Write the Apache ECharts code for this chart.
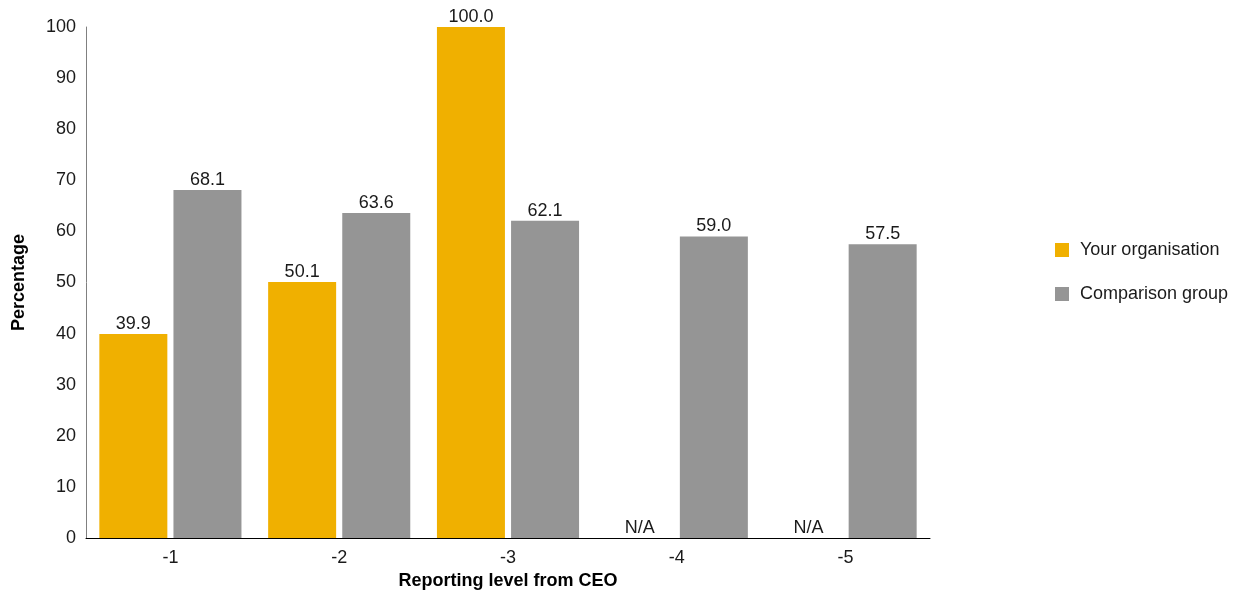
<!DOCTYPE html>
<html>
<head>
<meta charset="utf-8">
<script src="https://cdn.jsdelivr.net/npm/echarts@6/dist/echarts.min.js"></script>
<style>
  html, body { margin: 0; padding: 0; background: #fff; }
  #chart { width: 1238px; height: 590px; }
</style>
</head>
<body>
<div id="chart"></div>
<script>
// Reporting levels below the CEO
const categories = ['-1', '-2', '-3', '-4', '-5'];
// Percentages; null where the organisation has no data
const yourOrganisation = [39.9, 50.1, 100.0, null, null];
const comparisonGroup = [68.1, 63.6, 62.1, 59.0, 57.5];
const yTicks = [0, 10, 20, 30, 40, 50, 60, 70, 80, 90, 100];

const FONT = 'Liberation Sans';
const TEXT = '#1a1a1a';

function toBarData(values) {
  return values.map(v => v === null
    ? { value: 0, label: { formatter: 'N/A' } }
    : v);
}

const labelStyle = {
  show: true,
  position: 'top',
  distance: 1,
  color: TEXT,
  fontFamily: FONT,
  fontSize: 18,
  formatter: p => Number(p.value).toFixed(1)
};

const chart = echarts.init(document.getElementById('chart'));
chart.setOption({
  animation: false,
  textStyle: { fontFamily: FONT },
  grid: { left: 86, right: 308, top: 27, bottom: 52, outerBoundsMode: 'none', containLabel: false },
  legend: {
    orient: 'vertical',
    left: 1055,
    top: 241,
    padding: 0,
    itemWidth: 14,
    itemHeight: 14,
    itemGap: 26,
    icon: 'rect',
    textStyle: { fontFamily: FONT, fontSize: 18, color: TEXT, padding: [0, 0, 0, 6] },
    data: ['Your organisation', 'Comparison group']
  },
  xAxis: {
    type: 'category',
    data: categories,
    name: 'Reporting level from CEO',
    nameLocation: 'middle',
    nameGap: 31,
    nameTextStyle: { fontFamily: FONT, fontSize: 18, fontWeight: 'bold', color: '#000' },
    axisLine: { lineStyle: { color: '#000', width: 1 } },
    axisTick: { show: false },
    axisLabel: { fontFamily: FONT, fontSize: 18, color: TEXT, margin: 11 }
  },
  yAxis: {
    type: 'value',
    min: yTicks[0],
    max: yTicks[yTicks.length - 1],
    interval: 10,
    name: 'Percentage',
    nameLocation: 'middle',
    nameGap: 58,
    nameTextStyle: { fontFamily: FONT, fontSize: 18, fontWeight: 'bold', color: '#000' },
    axisLine: { show: true, lineStyle: { color: '#808080', width: 1 } },
    axisTick: { show: false },
    splitLine: { show: false },
    axisLabel: { fontFamily: FONT, fontSize: 18, color: TEXT, margin: 10 }
  },
  series: [
    {
      name: 'Your organisation',
      type: 'bar',
      data: toBarData(yourOrganisation),
      barWidth: 68,
      barGap: '9%',
      itemStyle: { color: '#F0B000' },
      label: labelStyle
    },
    {
      name: 'Comparison group',
      type: 'bar',
      data: toBarData(comparisonGroup),
      barWidth: 68,
      barGap: '9%',
      itemStyle: { color: '#959595' },
      label: labelStyle
    }
  ]
});
</script>
</body>
</html>
